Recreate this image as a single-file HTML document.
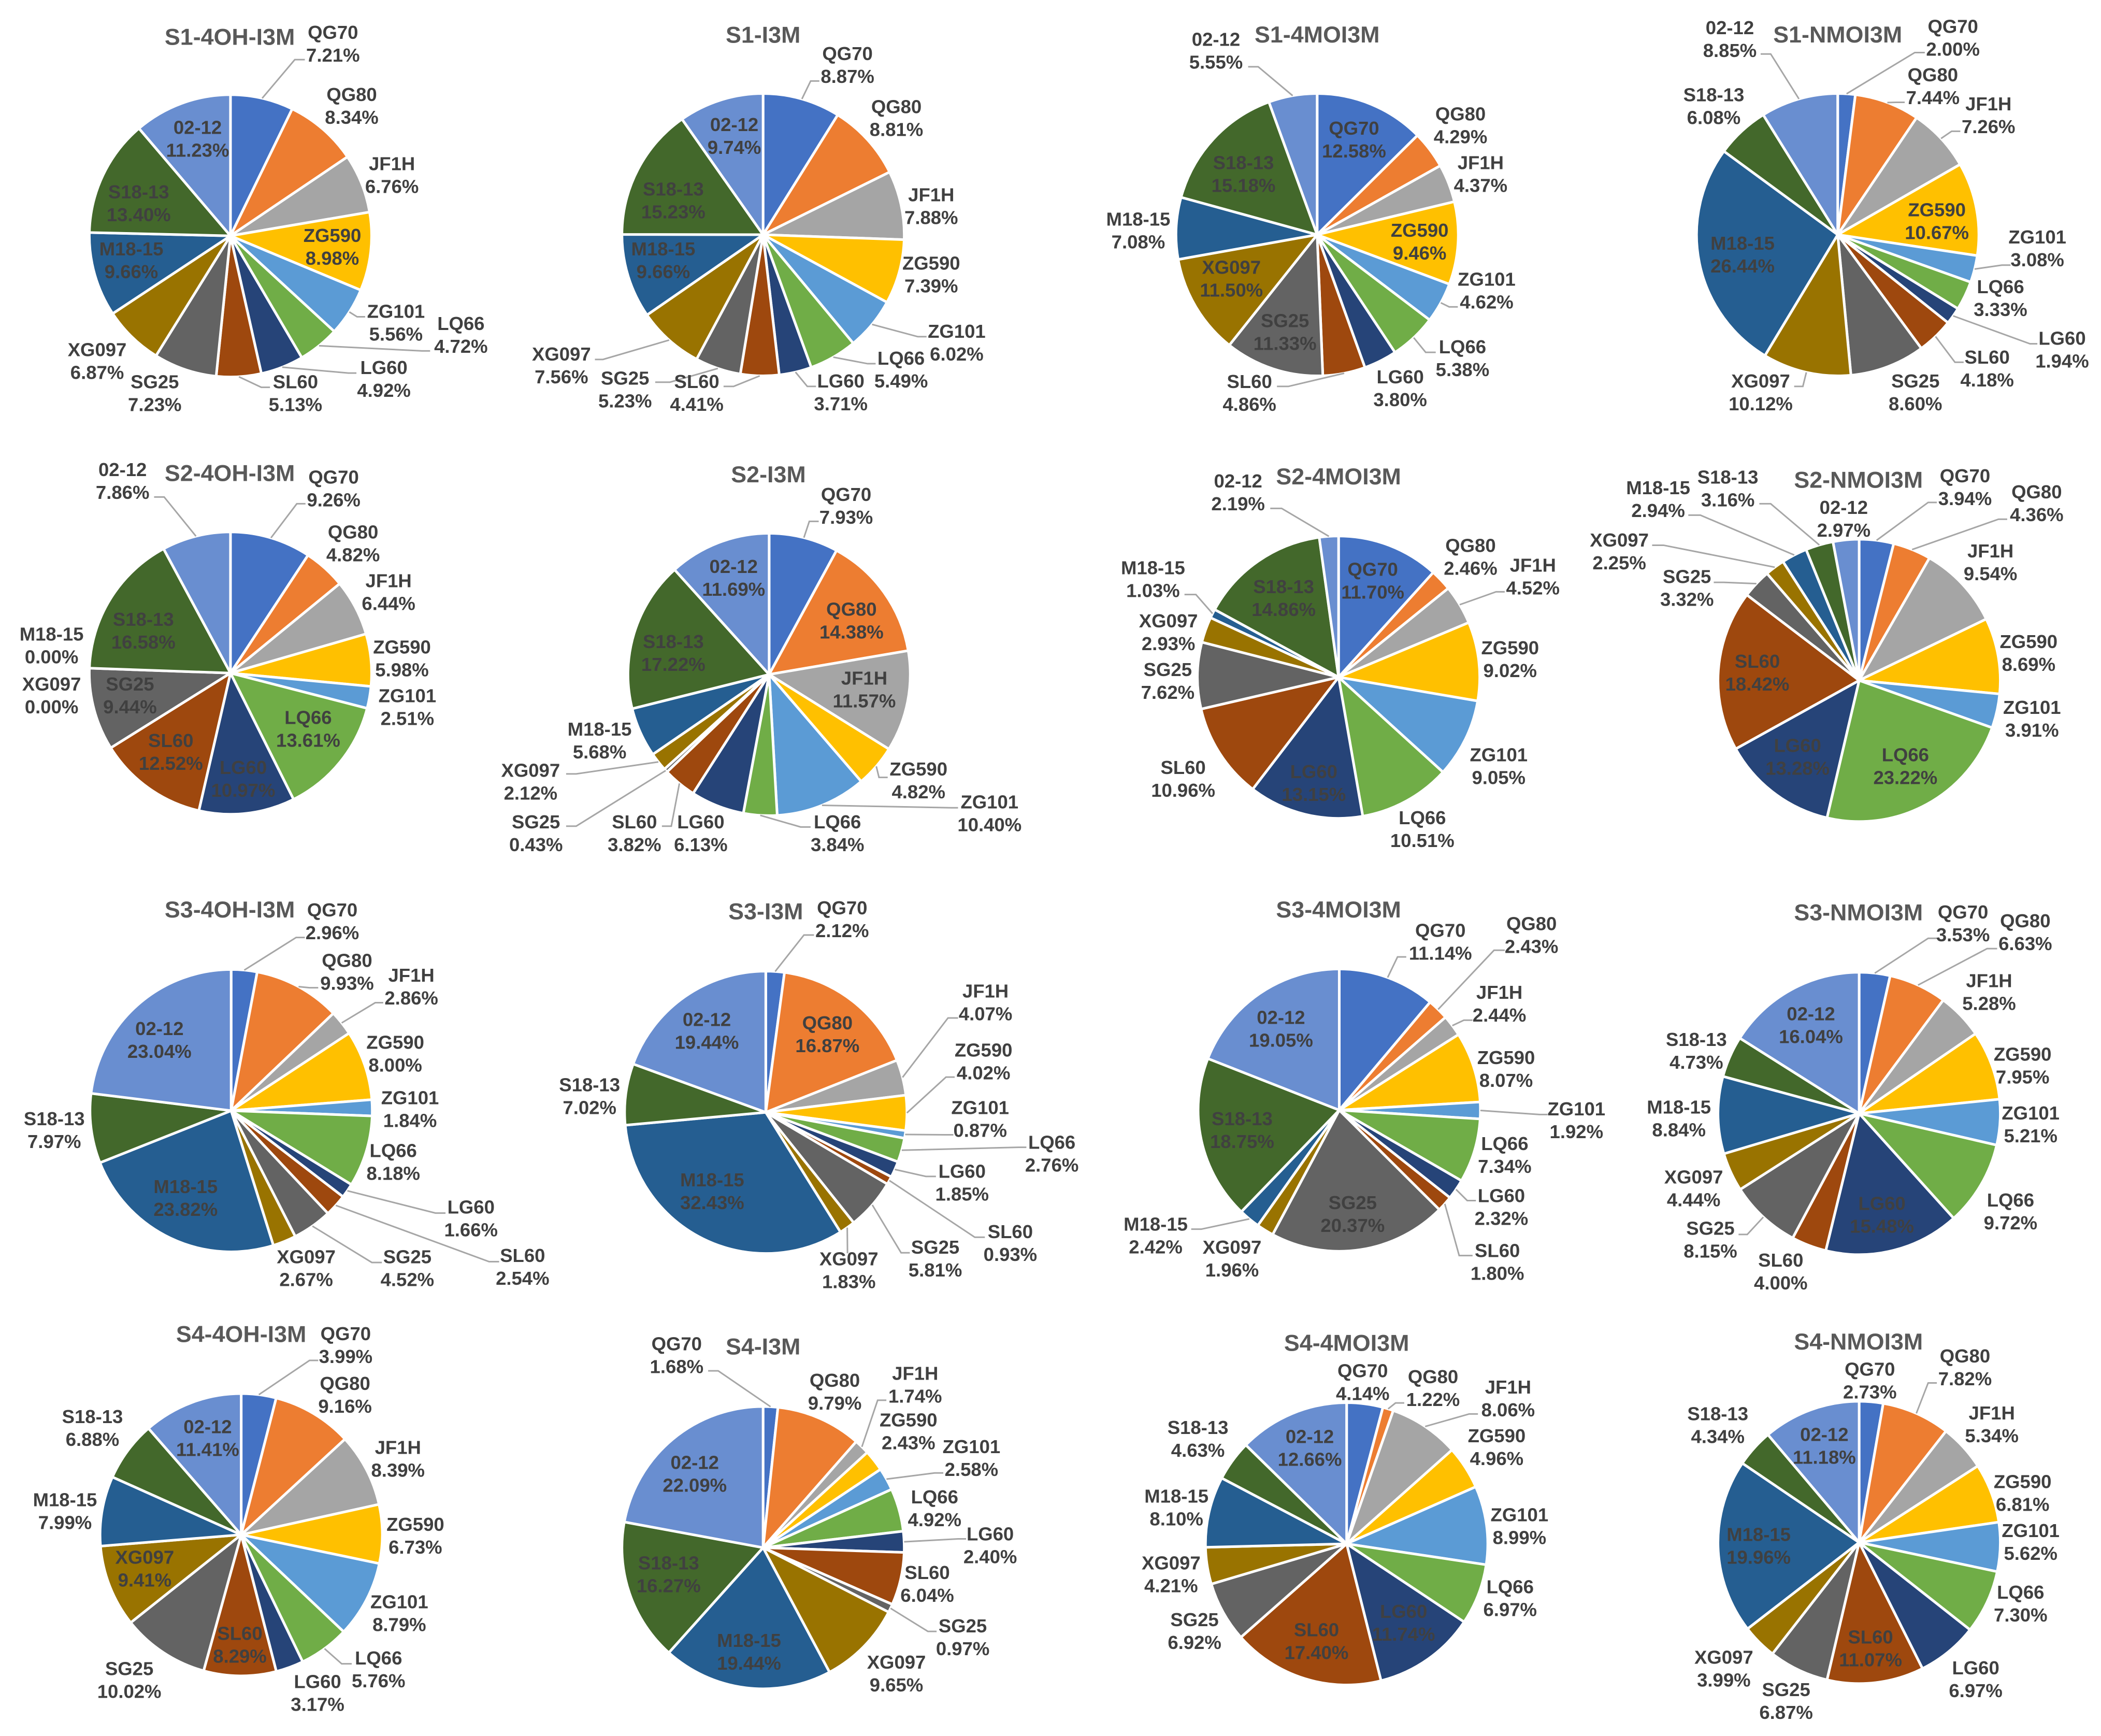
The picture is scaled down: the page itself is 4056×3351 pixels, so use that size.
<!DOCTYPE html>
<html lang="en">
<head>
<meta charset="utf-8">
<title>Pie charts S1-S4</title>
<style>
html,body{margin:0;padding:0;background:#fff;}
svg{display:block;}
text{font-family:"Liberation Sans",sans-serif;font-weight:bold;}
</style>
</head>
<body>
<svg id="figure" xmlns="http://www.w3.org/2000/svg" width="4056" height="3351" viewBox="0 0 4056 3351"></svg>
<script>
const categories = ['QG70','QG80','JF1H','ZG590','ZG101','LQ66','LG60','SL60','SG25','XG097','M18-15','S18-13','02-12'];

const s1_4oh  = [7.21,8.34,6.76,8.98,5.56,4.72,4.92,5.13,7.23,6.87,9.66,13.40,11.23];
const s1_i3m  = [8.87,8.81,7.88,7.39,6.02,5.49,3.71,4.41,5.23,7.56,9.66,15.23,9.74];
const s1_4moi = [12.58,4.29,4.37,9.46,4.62,5.38,3.80,4.86,11.33,11.50,7.08,15.18,5.55];
const s1_nmoi = [2.00,7.44,7.26,10.67,3.08,3.33,1.94,4.18,8.60,10.12,26.44,6.08,8.85];
const s2_4oh  = [9.26,4.82,6.44,5.98,2.51,13.61,10.97,12.52,9.44,0.00,0.00,16.58,7.86];
const s2_i3m  = [7.93,14.38,11.57,4.82,10.40,3.84,6.13,3.82,0.43,2.12,5.68,17.22,11.69];
const s2_4moi = [11.70,2.46,4.52,9.02,9.05,10.51,13.15,10.96,7.62,2.93,1.03,14.86,2.19];
const s2_nmoi = [3.94,4.36,9.54,8.69,3.91,23.22,13.28,18.42,3.32,2.25,2.94,3.16,2.97];
const s3_4oh  = [2.96,9.93,2.86,8.00,1.84,8.18,1.66,2.54,4.52,2.67,23.82,7.97,23.04];
const s3_i3m  = [2.12,16.87,4.07,4.02,0.87,2.76,1.85,0.93,5.81,1.83,32.43,7.02,19.44];
const s3_4moi = [11.14,2.43,2.44,8.07,1.92,7.34,2.32,1.80,20.37,1.96,2.42,18.75,19.05];
const s3_nmoi = [3.53,6.63,5.28,7.95,5.21,9.72,15.48,4.00,8.15,4.44,8.84,4.73,16.04];
const s4_4oh  = [3.99,9.16,8.39,6.73,8.79,5.76,3.17,8.29,10.02,9.41,7.99,6.88,11.41];
const s4_i3m  = [1.68,9.79,1.74,2.43,2.58,4.92,2.40,6.04,0.97,9.65,19.44,16.27,22.09];
const s4_4moi = [4.14,1.22,8.06,4.96,8.99,6.97,11.74,17.40,6.92,4.21,8.10,4.63,12.66];
const s4_nmoi = [2.73,7.82,5.34,6.81,5.62,7.30,6.97,11.07,6.87,3.99,19.96,4.34,11.18];

const sliceColors = ['#4472C4','#ED7D31','#A5A5A5','#FFC000','#5B9BD5','#70AD47','#264478','#9E480E','#636363','#997300','#255E91','#43682B','#698ED0'];

/* Layout only (label anchors, titles and pie centres). Slices and leader starts come from the values. */
const layouts = [
 {title:'S1-4OH-I3M',values:s1_4oh,col:0,row:0,c:[344,830],t:[343,130],l:[[497,153,440,210,455],[525,372],[585,615],[496,868],[591,1135,533,1115,545],[688,1178,630,1235,642],[573,1333,520,1313,532],[441,1383,390,1363,403],[231,1383],[145,1270],[196,915],[207,715],[295,488]]},
 {title:'S1-I3M',values:s1_i3m,col:0,row:0,c:[1139,826],t:[1139,123],l:[[1265,228,1210,285,1223],[1338,415],[1390,725],[1390,965],[1428,1205,1370,1185,1383],[1345,1300,1295,1280,1307],[1255,1380,1205,1360,1218],[1040,1382,1095,1360,1080],[933,1370,1000,1345,978],[838,1285,900,1265,888],[990,915],[1005,705],[1096,478]]},
 {title:'S1-4MOI3M',values:s1_4moi,col:1,row:0,c:[398,826],t:[398,122],l:[[453,490],[612,440],[642,612],[551,850],[651,1022,595,1080,608],[615,1260,560,1240,575],[522,1366],[297,1382,355,1360,338],[350,1168],[270,980],[131,810],[288,612],[247,178,310,235,295]]},
 {title:'S1-NMOI3M',values:s1_nmoi,col:1,row:0,c:[1175,826],t:[1175,122],l:[[1347,132,1290,185,1305],[1317,303,1262,360,1275],[1400,405,1345,462,1358],[1323,778],[1473,873,1420,933,1433],[1418,1048],[1510,1230,1462,1210,1473],[1398,1296,1350,1275,1363],[1291,1380],[1060,1380,1123,1360,1110],[1033,895],[990,373],[1014,137,1075,190,1060]]},

 {title:'S2-4OH-I3M',values:s2_4oh,col:0,row:1,c:[344,840],t:[343,102],l:[[498,158,443,215,456],[527,360],[580,540],[600,785],[608,965],[460,1045],[363,1230],[255,1130],[194,922],[77,922],[77,737],[214,683],[183,130,245,190,230]]},
 {title:'S2-I3M',values:s2_i3m,col:0,row:1,c:[1148,845],t:[1147,107],l:[[1263,222,1208,280,1222],[1271,645],[1290,900],[1371,1235,1312,1225,1325],[1477,1357,1420,1337,1430],[1250,1430,1195,1408,1210],[1046,1430],[947,1430,1002,1405,988],[800,1430,860,1405,845],[792,1240,860,1212,845],[895,1088],[1005,765],[1095,488]]},
 {title:'S2-4MOI3M',values:s2_4moi,col:1,row:1,c:[430,855],t:[430,115],l:[[481,498],[627,410],[720,483,665,540,678],[686,788],[669,1183],[555,1415],[393,1245],[198,1230],[175,868],[176,688],[153,492,217,550,200],[348,562],[280,172,345,232,328]]},
 {title:'S2-NMOI3M',values:s2_nmoi,col:1,row:1,c:[1207,867],t:[1206,127],l:[[1365,153,1310,210,1323],[1472,212,1415,272,1428],[1403,430],[1460,765],[1465,1008],[1276,1183],[1115,1148],[1055,838],[950,525,1005,505,990],[849,390,915,368,898],[907,197,970,257,952],[1011,158,1075,215,1058],[1184,270]]},

 {title:'S3-4OH-I3M',values:s3_4oh,col:0,row:2,c:[345,866],t:[343,142],l:[[496,183,442,242,455],[518,365,462,423,475],[614,418,560,477,572],[590,660],[612,860],[587,1050],[703,1253,650,1235,665],[780,1428,730,1410,745],[608,1433,555,1413,570],[457,1433],[277,1180],[81,935],[238,610]]},
 {title:'S3-I3M',values:s3_i3m,col:0,row:2,c:[1143,872],t:[1143,148],l:[[1257,175,1200,233,1215],[1235,590],[1471,475,1415,532,1430],[1468,688,1412,745,1425],[1463,895,1410,953,1423],[1570,1020,1520,998,1532],[1436,1125,1382,1103,1397],[1508,1342,1455,1322,1470],[1396,1398,1345,1378,1358],[1267,1440,1265,1380,1265],[1063,1155],[880,813],[1055,578]]},
 {title:'S3-4MOI3M',values:s3_4moi,col:1,row:2,c:[431,864],t:[430,142],l:[[582,257,518,312,531],[718,232,662,288,678],[670,480,617,540,630],[680,715],[785,900,730,880,742],[678,1025],[673,1212,622,1190,635],[667,1410,610,1388,630],[451,1238],[271,1398],[157,1315,225,1293,210],[286,935],[344,570]]},
 {title:'S3-NMOI3M',values:s3_nmoi,col:1,row:2,c:[1207,876],t:[1206,152],l:[[1362,190,1310,245,1323],[1455,222,1398,282,1413],[1401,438],[1451,703],[1463,915],[1433,1228],[1241,1240],[1090,1445],[985,1330,1040,1312,1027],[960,1145],[938,893],[964,650],[1135,557]]},

 {title:'S4-4OH-I3M',values:s4_4oh,col:0,row:3,c:[360,835],t:[360,105],l:[[516,143,462,200,475],[515,325],[594,558],[620,838],[596,1120],[565,1325,510,1305,525],[474,1410],[358,1235],[193,1363],[216,958],[97,748],[138,445],[310,482]]},
 {title:'S4-I3M',values:s4_i3m,col:0,row:3,c:[1139,882],t:[1139,150],l:[[1010,180,1072,238,1057],[1246,313],[1366,288,1310,345,1323],[1356,458],[1450,555,1395,610,1408],[1395,738],[1478,873,1430,850,1442],[1384,1013],[1437,1208,1385,1187,1398],[1338,1340],[1118,1260],[998,978],[1037,612]]},
 {title:'S4-4MOI3M',values:s4_4moi,col:1,row:3,c:[442,868],t:[442,137],l:[[466,278],[571,300,515,355,528],[683,338,625,395,638],[666,515],[700,803],[686,1065],[527,1155],[397,1222],[215,1185],[180,978],[188,735],[220,485],[387,518]]},
 {title:'S4-NMOI3M',values:s4_nmoi,col:1,row:3,c:[1207,863],t:[1206,132],l:[[1223,273],[1365,225,1310,282,1323],[1405,432],[1451,682],[1463,860],[1448,1085],[1381,1360],[1224,1248],[1098,1440],[1005,1322],[1057,875],[996,435],[1155,510]]}
];

const rowTop = [0,860,1680,2520];
const rowSpan = [860,820,840,831];
const PIE_R = 272.5;
const NS = 'http://www.w3.org/2000/svg';
const svg = document.getElementById('figure');

function xPos(col, v){ return col*2028 + v*2028/1568; }
function yPos(row, v){ return rowTop[row] + v*rowSpan[row]/1568; }
function angleOf(cum, total){ return cum/total*Math.PI*2 - Math.PI/2; }
function rimPoint(cx, cy, r, a){ return [cx + r*Math.cos(a), cy + r*Math.sin(a)]; }
function make(tag, parent){
  const el = document.createElementNS(NS, tag);
  parent.appendChild(el);
  return el;
}
function slug(s){ return s.toLowerCase(); }

layouts.forEach(function(chart){
  const cx = xPos(chart.col, chart.c[0]);
  const cy = yPos(chart.row, chart.c[1]);
  const total = chart.values.reduce(function(a,b){ return a+b; }, 0);
  const key = slug(chart.title);

  const g = make('g', svg);
  
  

  let cum = 0;
  const mids = [];
  chart.values.forEach(function(v, i){
    const a0 = angleOf(cum, total);
    const a1 = angleOf(cum + v, total);
    mids.push((a0 + a1)/2);
    cum += v;
    if (v <= 0) return;
    const p0 = rimPoint(cx, cy, PIE_R, a0);
    const p1 = rimPoint(cx, cy, PIE_R, a1);
    const large = (a1 - a0) > Math.PI ? 1 : 0;
    const path = make('path', g);
    path.setAttribute('d', 'M' + cx + ' ' + cy + 'L' + p0[0] + ' ' + p0[1] + 'A' + PIE_R + ' ' + PIE_R + ' 0 ' + large + ' 1 ' + p1[0] + ' ' + p1[1] + 'Z');
    path.setAttribute('fill', sliceColors[i]);
    path.setAttribute('stroke', '#fff');
    path.setAttribute('stroke-width', '5');
    path.setAttribute('stroke-linejoin', 'round');
    
    
  });

  chart.l.forEach(function(lab, i){
    if (lab.length < 3) return;
    const rim = rimPoint(cx, cy, PIE_R, mids[i]);
    const ex = xPos(chart.col, lab[2]);
    const ey = yPos(chart.row, lab[3]);
    const tx = xPos(chart.col, lab[4]);
    const line = make('polyline', g);
    line.setAttribute('points', rim[0] + ',' + rim[1] + ' ' + ex + ',' + ey + ' ' + tx + ',' + ey);
    line.setAttribute('fill', 'none');
    line.setAttribute('stroke', '#A6A6A6');
    line.setAttribute('stroke-width', '3');
    
    
  });

  const title = make('text', g);
  title.setAttribute('x', xPos(chart.col, chart.t[0]));
  title.setAttribute('y', yPos(chart.row, chart.t[1]) + 15);
  title.setAttribute('text-anchor', 'middle');
  title.setAttribute('font-size', '44.8');
  title.setAttribute('fill', '#595959');
  
  
  title.textContent = chart.title;

  chart.l.forEach(function(lab, i){
    const x = xPos(chart.col, lab[0]);
    const y = yPos(chart.row, lab[1]);
    const t = make('text', g);
    t.setAttribute('text-anchor', 'middle');
    t.setAttribute('font-size', '36.5');
    t.setAttribute('fill', '#404040');
    
    
    const s1 = make('tspan', t);
    s1.setAttribute('x', x);
    s1.setAttribute('y', y - 9);
    s1.textContent = categories[i];
    const s2 = make('tspan', t);
    s2.setAttribute('x', x);
    s2.setAttribute('y', y + 35);
    s2.textContent = chart.values[i].toFixed(2) + '%';
  });
});
</script>
</body>
</html>
